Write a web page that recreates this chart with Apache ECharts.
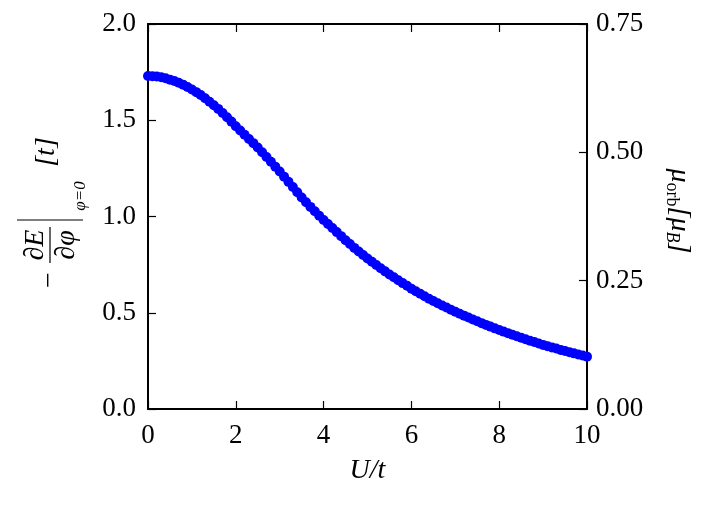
<!DOCTYPE html>
<html>
<head>
<meta charset="utf-8">
<script src="https://cdn.jsdelivr.net/npm/echarts@6/dist/echarts.min.js"></script>
<style>
  html, body { margin: 0; padding: 0; background: #fff; }
  #main { width: 707px; height: 505px; }
</style>
</head>
<body>
<div id="main"></div>
<script>
// U/t values, step 0.1
var uValues = [];
for (var i = 0; i <= 100; i++) uValues.push(+(i * 0.1).toFixed(1));

// -dE/dphi values
var dEdphi = [
  1.730, 1.729, 1.727, 1.723, 1.718, 1.711, 1.704, 1.695, 1.685, 1.673,
  1.660, 1.646, 1.631, 1.614, 1.596, 1.578, 1.559, 1.538, 1.516, 1.493,
  1.469, 1.447, 1.425, 1.403, 1.381, 1.358, 1.334, 1.309, 1.284, 1.259,
  1.234, 1.207, 1.180, 1.153, 1.126, 1.099, 1.074, 1.050, 1.027, 1.004,
  0.982, 0.961, 0.940, 0.919, 0.898, 0.877, 0.857, 0.837, 0.818, 0.800,
  0.782, 0.765, 0.748, 0.731, 0.715, 0.699, 0.684, 0.669, 0.654, 0.640,
  0.625, 0.612, 0.599, 0.586, 0.573, 0.561, 0.549, 0.538, 0.527, 0.516,
  0.505, 0.495, 0.485, 0.475, 0.465, 0.456, 0.446, 0.437, 0.428, 0.419,
  0.410, 0.402, 0.394, 0.386, 0.378, 0.370, 0.362, 0.355, 0.348, 0.340,
  0.333, 0.326, 0.320, 0.314, 0.307, 0.301, 0.295, 0.289, 0.283, 0.278,
  0.272
];

var xTicks = [0, 2, 4, 6, 8, 10];
var leftTicks = [0.0, 0.5, 1.0, 1.5, 2.0];
var rightTicks = [0.00, 0.25, 0.50, 0.75];

var FONT = '"Liberation Serif", "DejaVu Serif", serif';

var points = uValues.map(function (u, i) { return [u, dEdphi[i]]; });

var chart = echarts.init(document.getElementById('main'));

var axisLine = { show: true, onZero: false, lineStyle: { color: '#000', width: 2 } };
var tick = { show: true, inside: true, length: 8, lineStyle: { color: '#000', width: 1.2 } };

chart.setOption({
  animation: false,
  grid: { left: 148, right: 120, top: 24, bottom: 96 },
  xAxis: [
    {
      type: 'value', min: 0, max: 10, interval: 2,
      axisLine: axisLine, axisTick: tick, splitLine: { show: false },
      axisLabel: {
        margin: 13, color: '#000', fontSize: 27, fontFamily: FONT,
        formatter: function (v) { return xTicks.indexOf(v) >= 0 ? String(v) : ''; }
      },
      name: 'U/t', nameLocation: 'middle', nameGap: 48,
      nameTextStyle: { color: '#000', fontSize: 28, fontStyle: 'italic', fontFamily: FONT }
    },
    {
      type: 'value', position: 'top', min: 0, max: 10, interval: 2,
      axisLine: axisLine, axisTick: tick, axisLabel: { show: false }, splitLine: { show: false }
    }
  ],
  yAxis: [
    {
      type: 'value', min: 0, max: 2, interval: 0.5,
      axisLine: axisLine, axisTick: tick, splitLine: { show: false },
      axisLabel: {
        margin: 12, color: '#000', fontSize: 27, fontFamily: FONT,
        formatter: function (v) { return leftTicks.indexOf(v) >= 0 ? v.toFixed(1) : ''; }
      }
    },
    {
      type: 'value', position: 'right', min: 0, max: 0.75, interval: 0.25,
      axisLine: axisLine, axisTick: tick, splitLine: { show: false },
      axisLabel: {
        margin: 9, color: '#000', fontSize: 27, fontFamily: FONT,
        formatter: function (v) { return rightTicks.indexOf(v) >= 0 ? v.toFixed(2) : ''; }
      }
    }
  ],
  series: [
    {
      type: 'scatter',
      data: points,
      symbol: 'circle',
      symbolSize: 10,
      itemStyle: { color: '#0000ff', opacity: 1 }
    }
  ],
  graphic: [
    {
      // left axis label, rotated to read bottom-to-top
      type: 'group', x: 50, y: 245, rotation: Math.PI / 2,
      children: [
        { type: 'text', x: -35, y: 0, style: { text: '\u2212', font: '28px ' + FONT, fill: '#000', align: 'center', verticalAlign: 'middle' } },
        { type: 'line', shape: { x1: -18, y1: 0, x2: 18, y2: 0 }, style: { stroke: '#000', lineWidth: 1.2 } },
        { type: 'text', x: 0, y: -14, style: { text: '\u2202E', font: 'italic 28px ' + FONT, fill: '#000', align: 'center', verticalAlign: 'middle' } },
        { type: 'text', x: 0, y: 17, style: { text: '\u2202\u03c6', font: 'italic 28px ' + FONT, fill: '#000', align: 'center', verticalAlign: 'middle' } },
        { type: 'line', shape: { x1: 25, y1: -33, x2: 25, y2: 33 }, style: { stroke: '#000', lineWidth: 1.2 } },
        { type: 'text', x: 49, y: 31, style: { text: '\u03c6=0', font: 'italic 17px ' + FONT, fill: '#000', align: 'center', verticalAlign: 'middle' } },
        { type: 'text', x: 93, y: -3, style: { text: '[t]', font: 'italic 28px ' + FONT, fill: '#000', align: 'center', verticalAlign: 'middle' } }
      ]
    },
    {
      // right axis label, rotated to read top-to-bottom
      type: 'group', x: 679, y: 211, rotation: -Math.PI / 2,
      children: [
        {
          type: 'text', x: 0, y: 0,
          style: {
            text: '{m|\u03bc}{s|orb}{m|[}{m|\u03bc}{i|B}{m|]}',
            align: 'center', verticalAlign: 'middle', fill: '#000',
            rich: {
              m: { fontSize: 28, fontStyle: 'italic', fontFamily: FONT, fill: '#000' },
              s: { fontSize: 18, fontFamily: FONT, fill: '#000', padding: [14, 0, 0, 0] },
              i: { fontSize: 18, fontStyle: 'italic', fontFamily: FONT, fill: '#000', padding: [14, 0, 0, 0] }
            }
          }
        }
      ]
    }
  ]
});
</script>
</body>
</html>
